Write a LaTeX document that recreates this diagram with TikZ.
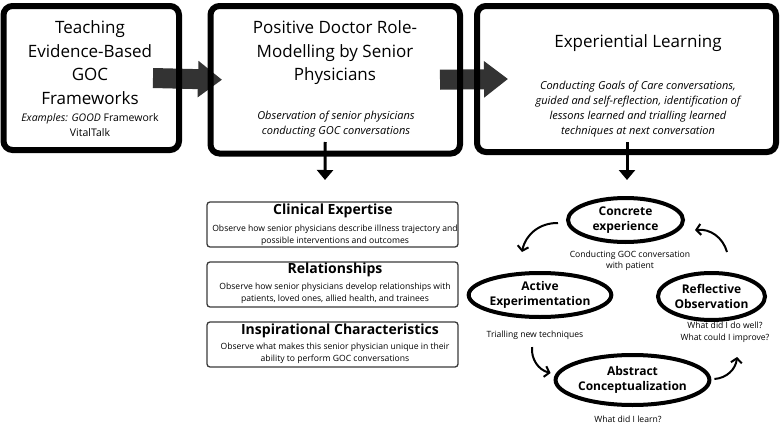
\documentclass[tikz,border=0pt]{standalone}
\usepackage{fontspec}
\setmainfont{Open Sans}
\usetikzlibrary{arrows.meta,shapes.geometric,backgrounds}
\definecolor{arrowgray}{HTML}{333333}
\definecolor{boxgray}{HTML}{3A3A3A}

\tikzset{
  bigbox/.style={draw,line width=6pt,rounded corners=9pt,outer sep=0pt},
  bigtitle/.style={align=center,inner sep=0pt,font=\fontsize{17}{23.5}\selectfont},
  boxnote/.style={align=center,inner sep=0pt,font=\fontsize{10.5}{15}\selectfont},
  italicnote/.style={boxnote,font=\itshape\fontsize{11}{15}\selectfont},
  listbox/.style={draw=boxgray,line width=1.3pt,rounded corners=3pt,outer sep=0pt,
    minimum width=251pt,minimum height=45pt},
  listtitle/.style={inner sep=0pt,font=\bfseries\fontsize{14}{16}\selectfont},
  listnote/.style={align=center,inner sep=0pt,font=\fontsize{8.6}{12}\selectfont},
  phase/.style={ellipse,draw,line width=4pt,inner sep=0pt,outer sep=0pt,align=center,
    font=\bfseries\fontsize{12}{14.5}\selectfont},
  phasenote/.style={align=center,inner sep=0pt,font=\fontsize{8.6}{11.5}\selectfont},
  bigarrow/.style={draw=arrowgray,line width=20pt,-{Triangle[length=24pt,width=35pt]},
    arrowgray},
  downarrow/.style={line width=3pt,-{Triangle[length=10pt,width=16pt]}},
  cyclearrow/.style={line width=2pt,-{Straight Barb[length=4.5pt,width=11pt]}}
}

\begin{document}
\begin{tikzpicture}[x=1pt,y=-1pt]
  \useasboundingbox (0,0) rectangle (780,423);

  % the three stages
  \node[bigbox,minimum width=175.5pt,minimum height=144pt] (teach) at (91.25,78) {};
  \node[bigbox,minimum width=249.5pt,minimum height=147.5pt] (model) at (335.25,79.75) {};
  \node[bigbox,minimum width=299pt,minimum height=146pt] (exper) at (626.5,79) {};

  \node[bigtitle] (teachtitle) at (90,62.5) {Teaching\\Evidence-Based\\GOC\\Frameworks};
  \node[boxnote] (teachnote) at (90,125.5) {\textit{Examples: GOOD} Framework\\VitalTalk};
  \node[bigtitle] (modeltitle) at (335,53) {Positive Doctor Role-\\Modelling by Senior\\Physicians};
  \node[italicnote] (modelnote) at (336,124.5)
    {Observation of senior physicians\\conducting GOC conversations};
  \node[bigtitle] (expertitle) at (638,43) {Experiential Learning};
  \node[italicnote] (expernote) at (638,109.5)
    {Conducting Goals of Care conversations,\\guided and self-reflection, identification of\\lessons learned and trialling learned\\techniques at next conversation};

  \begin{scope}[on background layer]
    \draw[bigarrow] ([xshift=-26pt]teach.east) -- ([xshift=11.5pt]model.west);
    \draw[bigarrow] ([xshift=-20pt]model.east) -- ([xshift=31pt]exper.west);
  \end{scope}

  % role modelling
  \node[listbox] (clin) at (332.5,224.5) {};
  \node[listtitle] (clintitle) at (333,211) {Clinical Expertise};
  \node[listnote] (clinnote) at (335,235) {Observe how senior physicians describe illness trajectory and\\possible interventions and outcomes};
  \node[listbox] (rel) at (332.5,284.5) {};
  \node[listtitle] (reltitle) at (335,270) {Relationships};
  \node[listnote] (relnote) at (335,293.5) {Observe how senior physicians develop relationships with\\patients, loved ones, allied health, and trainees};
  \node[listbox] (insp) at (332.5,344.5) {};
  \node[listtitle] (insptitle) at (340,331) {Inspirational Characteristics};
  \node[listnote] (inspnote) at (335,353) {Observe what makes this senior physician unique in their\\ability to perform GOC conversations};

  \draw[downarrow] ([shift={(-10,-11.5)}]model.south) -- ([shift={(-7.5,-22)}]clin.north);

  % learning cycle
  \node[phase,minimum width=115pt,minimum height=44pt] (conc) at (625.5,220) {Concrete\\experience};
  \node[phase,minimum width=114pt,minimum height=44pt] (act) at (540,295) {Active\\Experimentation};
  \node[phase,minimum width=107pt,minimum height=47pt] (refl) at (711.5,296.5) {Reflective\\Observation};
  \node[phase,minimum width=119pt,minimum height=50pt] (abst) at (632.5,380) {Abstract\\Conceptualization};

  \node[phasenote] (concnote) at (630,261) {Conducting GOC conversation\\with patient};
  \node[phasenote] (actnote) at (535,335) {Trialling new techniques};
  \node[phasenote] (reflnote) at (725,332.5) {What did I do well?\\What could I improve?};
  \node[phasenote] (abstnote) at (628,419) {What did I learn?};

  \draw[downarrow] ([shift={(0.5,-10)}]exper.south) -- ([shift={(1.5,-18)}]conc.north);

  \draw[cyclearrow] ([shift={(-10,3)}]conc.west) to[bend right=40] ([shift={(-18,-21)}]act.north);
  \draw[cyclearrow] ([shift={(15.5,-21)}]refl.north) to[bend right=40] ([shift={(12,10)}]conc.east);
  \draw[cyclearrow] ([shift={(-8,30)}]act.south) to[bend right=40] ([shift={(-5,-7)}]abst.west);
  \draw[cyclearrow] ([shift={(5,-1)}]abst.east) to[bend right=40] ([shift={(25.5,37)}]refl.south);
\end{tikzpicture}
\end{document}
